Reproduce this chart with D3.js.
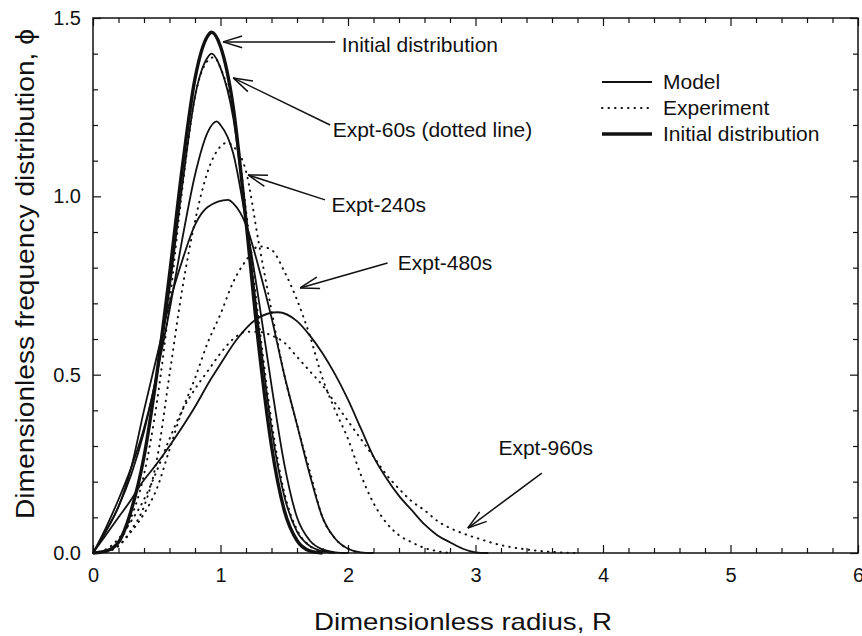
<!DOCTYPE html>
<html>
<head>
<meta charset="utf-8">
<script src="https://cdn.jsdelivr.net/npm/d3@7"></script>
<style>
  body { margin: 0; background: #fff; }
  svg { display: block; font-family: "Liberation Sans", Arial, sans-serif; }
</style>
</head>
<body>
<svg id="chart" width="862" height="636"></svg>
<script>
// tick values
const majorX = [0, 1, 2, 3, 4, 5, 6];
const minorX = d3.range(0, 6.001, 0.2).filter(v => Math.abs(v - Math.round(v)) > 1e-6);
const majorY = [0, 0.5, 1.0, 1.5];
const minorY = d3.range(0, 1.501, 0.1).filter(v => Math.abs(v * 2 - Math.round(v * 2)) > 1e-6);

// series, [R, phi]
const initialDist = [[0,0],[0.1,0.005],[0.2,0.03],[0.3,0.12],[0.4,0.27],[0.5,0.5],[0.6,0.78],[0.7,1.08],[0.8,1.33],[0.9,1.45],[0.93,1.46],[1.0,1.42],[1.1,1.25],[1.2,0.93],[1.3,0.58],[1.4,0.3],[1.5,0.12],[1.6,0.035],[1.7,0.006],[1.8,0]];

const model60 = [[0,0],[0.1,0.07],[0.2,0.15],[0.3,0.24],[0.4,0.35],[0.5,0.5],[0.6,0.74],[0.7,1.03],[0.8,1.28],[0.9,1.39],[0.93,1.4],[1.0,1.36],[1.1,1.22],[1.2,0.94],[1.3,0.63],[1.4,0.35],[1.5,0.16],[1.6,0.06],[1.7,0.02],[1.8,0.005],[1.9,0]];
const model240 = [[0,0],[0.1,0.06],[0.2,0.13],[0.3,0.22],[0.4,0.34],[0.5,0.5],[0.6,0.68],[0.7,0.88],[0.8,1.06],[0.9,1.18],[0.97,1.21],[1.0,1.2],[1.1,1.12],[1.2,0.93],[1.3,0.71],[1.4,0.47],[1.5,0.25],[1.6,0.1],[1.7,0.035],[1.8,0.01],[1.9,0.002],[2.0,0]];
const model480 = [[0,0],[0.1,0.06],[0.2,0.13],[0.3,0.24],[0.4,0.4],[0.5,0.55],[0.6,0.7],[0.7,0.82],[0.8,0.92],[0.9,0.97],[1.06,0.99],[1.1,0.98],[1.2,0.92],[1.3,0.8],[1.4,0.66],[1.5,0.5],[1.6,0.36],[1.7,0.22],[1.8,0.1],[1.9,0.04],[2.0,0.012],[2.1,0.002],[2.2,0]];
const model960 = [[0,0],[0.1,0.05],[0.2,0.1],[0.3,0.15],[0.37,0.19],[0.5,0.25],[0.6,0.3],[0.8,0.41],[0.92,0.485],[1.0,0.53],[1.13,0.6],[1.3,0.66],[1.45,0.675],[1.6,0.65],[1.7,0.61],[1.8,0.56],[1.9,0.5],[2.0,0.43],[2.1,0.35],[2.2,0.27],[2.3,0.21],[2.4,0.16],[2.5,0.12],[2.6,0.08],[2.7,0.05],[2.8,0.03],[2.9,0.012],[3.0,0.002],[3.1,0]];

const expt60 = [[0,0],[0.1,0.005],[0.2,0.03],[0.3,0.1],[0.4,0.22],[0.5,0.42],[0.6,0.7],[0.7,1.02],[0.8,1.28],[0.9,1.38],[0.95,1.39],[1.0,1.36],[1.1,1.23],[1.2,0.96],[1.3,0.65],[1.4,0.37],[1.5,0.17],[1.6,0.065],[1.7,0.02],[1.8,0.005],[1.9,0]];
const expt240 = [[0,0],[0.1,0.004],[0.2,0.02],[0.3,0.065],[0.4,0.13],[0.5,0.26],[0.6,0.5],[0.7,0.74],[0.8,0.93],[0.9,1.07],[1.0,1.14],[1.05,1.15],[1.1,1.14],[1.2,1.07],[1.3,0.87],[1.4,0.68],[1.5,0.5],[1.6,0.36],[1.7,0.23],[1.8,0.1],[1.9,0.04],[2.0,0.012],[2.1,0]];
const expt480 = [[0,0],[0.1,0.003],[0.2,0.02],[0.3,0.06],[0.4,0.11],[0.5,0.18],[0.6,0.29],[0.7,0.4],[0.8,0.49],[0.9,0.59],[1.0,0.67],[1.1,0.76],[1.2,0.82],[1.3,0.86],[1.4,0.85],[1.5,0.79],[1.6,0.71],[1.7,0.61],[1.8,0.49],[1.9,0.4],[2.0,0.32],[2.1,0.22],[2.2,0.14],[2.3,0.085],[2.4,0.05],[2.5,0.03],[2.6,0.014],[2.7,0.005],[2.8,0]];
const expt960 = [[0,0],[0.1,0.01],[0.2,0.04],[0.3,0.09],[0.4,0.15],[0.5,0.23],[0.6,0.32],[0.7,0.4],[0.8,0.46],[0.9,0.51],[1.0,0.56],[1.1,0.6],[1.2,0.62],[1.3,0.62],[1.4,0.61],[1.5,0.59],[1.6,0.55],[1.7,0.51],[1.8,0.47],[1.9,0.42],[2.0,0.37],[2.1,0.32],[2.2,0.27],[2.3,0.22],[2.4,0.18],[2.5,0.145],[2.6,0.12],[2.7,0.09],[2.8,0.07],[2.9,0.055],[3.0,0.043],[3.2,0.022],[3.4,0.01],[3.6,0.003],[3.8,0]];

// labels with arrows: [text, textR, textPhi, tailR, tailPhi, tipR, tipPhi]
const notes = [
  ["Initial distribution", 1.95, 1.424, 1.90, 1.433, 1.02, 1.433],
  ["Expt-60s (dotted line)", 1.88, 1.186, 1.86, 1.20, 1.10, 1.332],
  ["Expt-240s", 1.87, 0.976, 1.82, 0.99, 1.216, 1.06],
  ["Expt-480s", 2.39, 0.813, 2.31, 0.813, 1.624, 0.743],
  ["Expt-960s", 3.18, 0.294, 3.52, 0.224, 2.94, 0.07]
];

const legendItems = ["Model", "Experiment", "Initial distribution"];

const svg = d3.select("#chart"),
  margin = { top: 18, right: 4, bottom: 83, left: 93 },
  width = 862 - margin.left - margin.right,
  height = 636 - margin.top - margin.bottom;

const ink = "#111";

const x = d3.scaleLinear().domain([0, 6]).range([margin.left, margin.left + width]);
const y = d3.scaleLinear().domain([0, 1.5]).range([margin.top + height, margin.top]);

// frame
svg.append("rect")
  .attr("x", x(0)).attr("y", y(1.5))
  .attr("width", x(6) - x(0)).attr("height", y(0) - y(1.5))
  .attr("fill", "none").attr("stroke", ink).attr("stroke-width", 1.5);

function styleAxis(g) {
  g.select(".domain").remove();
  g.selectAll("line").attr("stroke", ink).attr("stroke-width", 1.2);
  g.selectAll("text").attr("fill", ink).style("font-size", "20px").style("font-family", "Liberation Sans, Arial, sans-serif");
}

// bottom
svg.append("g").attr("transform", `translate(0,${y(0)})`)
  .call(d3.axisBottom(x).tickValues(majorX).tickSize(-8).tickPadding(15).tickFormat(d3.format("d")))
  .call(styleAxis);
svg.append("g").attr("transform", `translate(0,${y(0)})`)
  .call(d3.axisBottom(x).tickValues(minorX).tickSize(-5).tickFormat(""))
  .call(styleAxis);
// top
svg.append("g").attr("transform", `translate(0,${y(1.5)})`)
  .call(d3.axisTop(x).tickValues(majorX).tickSize(-8).tickFormat(""))
  .call(styleAxis);
svg.append("g").attr("transform", `translate(0,${y(1.5)})`)
  .call(d3.axisTop(x).tickValues(minorX).tickSize(-5).tickFormat(""))
  .call(styleAxis);
// left
svg.append("g").attr("transform", `translate(${x(0)},0)`)
  .call(d3.axisLeft(y).tickValues(majorY).tickSize(-8).tickPadding(12).tickFormat(d3.format(".1f")))
  .call(styleAxis);
svg.append("g").attr("transform", `translate(${x(0)},0)`)
  .call(d3.axisLeft(y).tickValues(minorY).tickSize(-5).tickFormat(""))
  .call(styleAxis);
// right
svg.append("g").attr("transform", `translate(${x(6)},0)`)
  .call(d3.axisRight(y).tickValues(majorY).tickSize(-8).tickFormat(""))
  .call(styleAxis);
svg.append("g").attr("transform", `translate(${x(6)},0)`)
  .call(d3.axisRight(y).tickValues(minorY).tickSize(-5).tickFormat(""))
  .call(styleAxis);

// axis titles
svg.append("text")
  .attr("x", 463).attr("y", 630)
  .attr("text-anchor", "middle")
  .attr("fill", ink)
  .attr("textLength", 298)
  .attr("lengthAdjust", "spacingAndGlyphs")
  .style("font-size", "24px")
  .text("Dimensionless radius, R");

svg.append("text")
  .attr("transform", `translate(34,274) rotate(-90)`)
  .attr("text-anchor", "middle")
  .attr("fill", ink)
  .attr("textLength", 490)
  .attr("lengthAdjust", "spacingAndGlyphs")
  .style("font-size", "26px")
  .text("Dimensionless frequency distribution, \u03d5");

// curves
const line = d3.line()
  .x(d => x(d[0]))
  .y(d => y(d[1]))
  .curve(d3.curveMonotoneX);

const plot = svg.append("g");

const drawCurve = (data, w, dash) => {
  plot.append("path")
    .datum(data)
    .attr("fill", "none")
    .attr("stroke", ink)
    .attr("stroke-width", w)
    .attr("stroke-linecap", dash ? "round" : "butt")
    .attr("stroke-dasharray", dash || null)
    .attr("d", line);
};

[expt60, expt240, expt480, expt960].forEach(s => drawCurve(s, 2, "0.5,6"));
[model60, model240, model480, model960].forEach(s => drawCurve(s, 1.8));
drawCurve(initialDist, 3.4);

// annotations
const arrow = (x1, y1, x2, y2) => {
  const a = Math.atan2(y2 - y1, x2 - x1);
  const len = 20, spread = 0.3;
  const g = svg.append("g").attr("stroke", ink).attr("stroke-width", 1.5).attr("fill", "none");
  g.append("line").attr("x1", x1).attr("y1", y1).attr("x2", x2).attr("y2", y2);
  [a + Math.PI - spread, a + Math.PI + spread].forEach(b => {
    g.append("line")
      .attr("x1", x2).attr("y1", y2)
      .attr("x2", x2 + len * Math.cos(b)).attr("y2", y2 + len * Math.sin(b));
  });
};

notes.forEach(n => {
  arrow(x(n[3]), y(n[4]), x(n[5]), y(n[6]));
  svg.append("text")
    .attr("x", x(n[1])).attr("y", y(n[2]))
    .attr("dy", "0.35em")
    .attr("fill", ink)
    .style("font-size", "21px")
    .text(n[0]);
});

// legend
const legend = svg.append("g").attr("transform", "translate(602,82)");
legendItems.forEach((name, i) => {
  const row = legend.append("g").attr("transform", `translate(0,${i * 26})`);
  row.append("line")
    .attr("x1", 0).attr("x2", 50)
    .attr("stroke", ink)
    .attr("stroke-width", i === 2 ? 3.4 : (i === 1 ? 2 : 1.8))
    .attr("stroke-linecap", i === 1 ? "round" : "butt")
    .attr("stroke-dasharray", i === 1 ? "0.5,6" : null);
  row.append("text")
    .attr("x", 61).attr("dy", "0.35em")
    .attr("fill", ink)
    .style("font-size", "21px")
    .text(name);
});
</script>
</body>
</html>
